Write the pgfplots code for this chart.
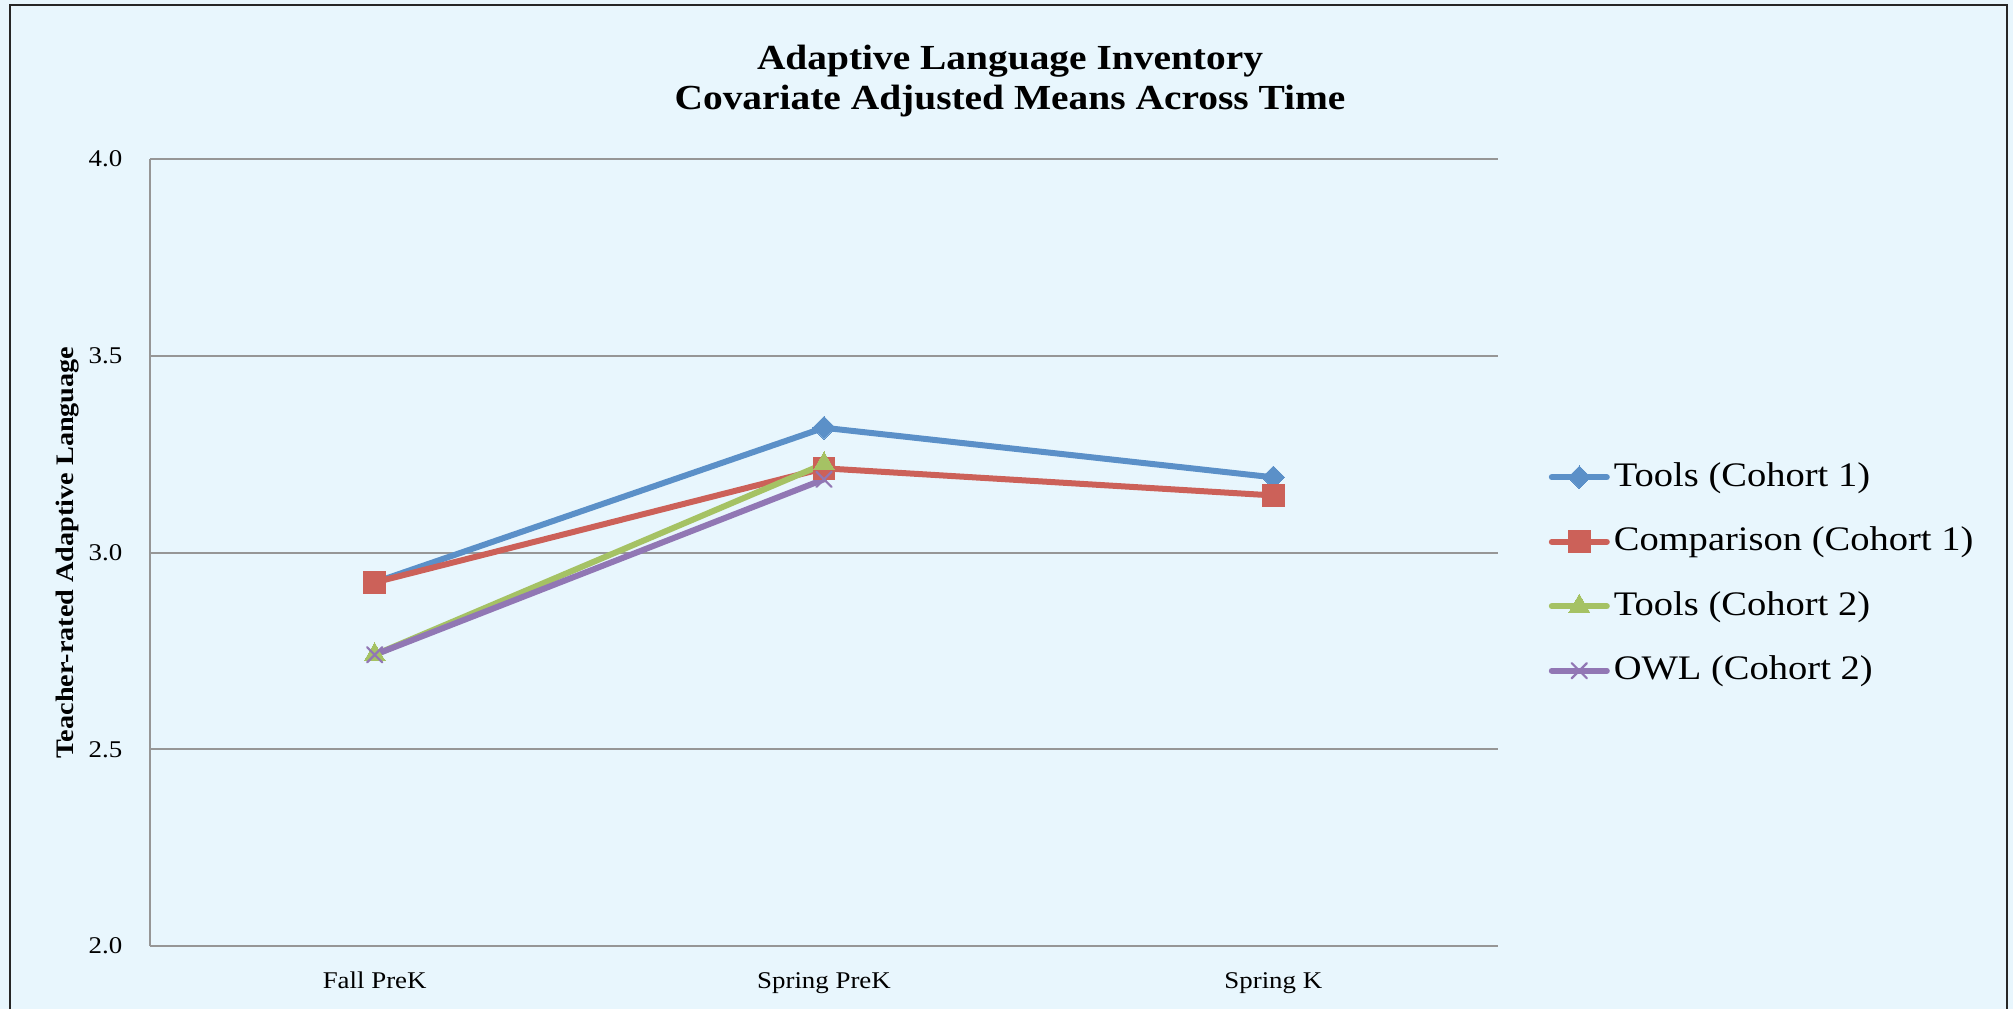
\documentclass[border=0pt]{standalone}
\usepackage{pgfplots}
\pgfplotsset{compat=1.18}
\usepackage{fontspec}
\setmainfont[FakeStretch=1.12]{Liberation Serif}
\definecolor{bgblue}{RGB}{232,246,253}
\definecolor{gridgray}{RGB}{150,150,150}
\definecolor{cblue}{RGB}{91,144,200}
\definecolor{cred}{RGB}{204,97,89}
\definecolor{cgreen}{RGB}{165,194,100}
\definecolor{cpurple}{RGB}{145,119,180}
\begin{document}
\begin{tikzpicture}
\path[use as bounding box] (0,0) rectangle (503.25pt,252.25pt);
\fill[bgblue] (0,0) rectangle (503.25pt,252.25pt);
\draw[line width=0.6pt, black!85] (2.5pt,0) -- (2.5pt,251pt) -- (501.75pt,251pt) -- (501.75pt,0);
\begin{axis}[
  at={(37.5pt,15.75pt)}, anchor=south west,
  scale only axis, width=337pt, height=196.75pt,
  xmin=-0.5, xmax=2.5, ymin=2, ymax=4,
  xtick={0,1,2}, xticklabels={Fall PreK, Spring PreK, Spring K},
  ytick={2,2.5,3,3.5,4},
  yticklabel={\pgfmathprintnumber[fixed,fixed zerofill,precision=1]{\tick}},
  /pgf/number format/assume math mode=true,
  axis x line*=bottom, axis y line*=left,
  axis line style={draw=gridgray, line width=0.5pt},
  tick style={draw=none},
  ymajorgrids,
  major grid style={draw=gridgray, line width=0.5pt},
  ticklabel style={font=\fontsize{6}{7}\selectfont},
  yticklabel style={anchor=east, inner sep=0pt, xshift=-6.75pt},
  xticklabel style={anchor=base, inner sep=0pt, yshift=-10.5pt},
  ylabel={\bfseries Teacher-rated Adaptive Language},
  every axis y label/.style={at={(axis description cs:-0.0608,0.5)}, anchor=center, rotate=90, font=\fontsize{6.3}{7.5}\selectfont},
  title={Adaptive Language Inventory\\Covariate Adjusted Means Across Time},
  title style={at={(axis description cs:0.638,1.1159)}, anchor=north, align=center, inner sep=0pt, font=\bfseries\fontsize{8.8}{10}\selectfont},
  legend style={draw=none, fill=none, at={(axis description cs:1.0371,0.4727)}, anchor=west,
     font=\fontsize{8.6}{10}\selectfont, inner sep=0pt, row sep=8.65pt,
     nodes={inner xsep=1pt, inner ysep=0pt}},
  legend cell align=left,
  legend image code/.code={\draw[mark repeat=2,mark phase=2,#1] plot coordinates {(0pt,0pt) (6.875pt,0pt) (13.75pt,0pt)};},
  every axis plot/.append style={line width=1.5pt, line join=round, line cap=round},
]
\addplot[color=cblue, mark=square*, mark size=2pt, mark options={rotate=45, solid, fill=cblue, draw=cblue, line width=0pt}]
  coordinates {(0,2.924) (1,3.317) (2,3.191)};
\addlegendentry{Tools (Cohort 1)}
\addplot[color=cred, mark=square*, mark size=2.7pt, mark options={solid, fill=cred, draw=cred, line width=0pt}]
  coordinates {(0,2.924) (1,3.214) (2,3.145)};
\addlegendentry{Comparison (Cohort 1)}
\addplot[color=cgreen, mark=triangle*, mark size=3pt, mark options={solid, fill=cgreen, draw=cgreen, line width=0pt}]
  coordinates {(0,2.740) (1,3.225)};
\addlegendentry{Tools (Cohort 2)}
\addplot[color=cpurple, mark=x, mark size=2.7pt, mark options={solid, draw=cpurple, line width=0.55pt}]
  coordinates {(0,2.740) (1,3.186)};
\addlegendentry{OWL (Cohort 2)}
\end{axis}
\end{tikzpicture}
\end{document}
